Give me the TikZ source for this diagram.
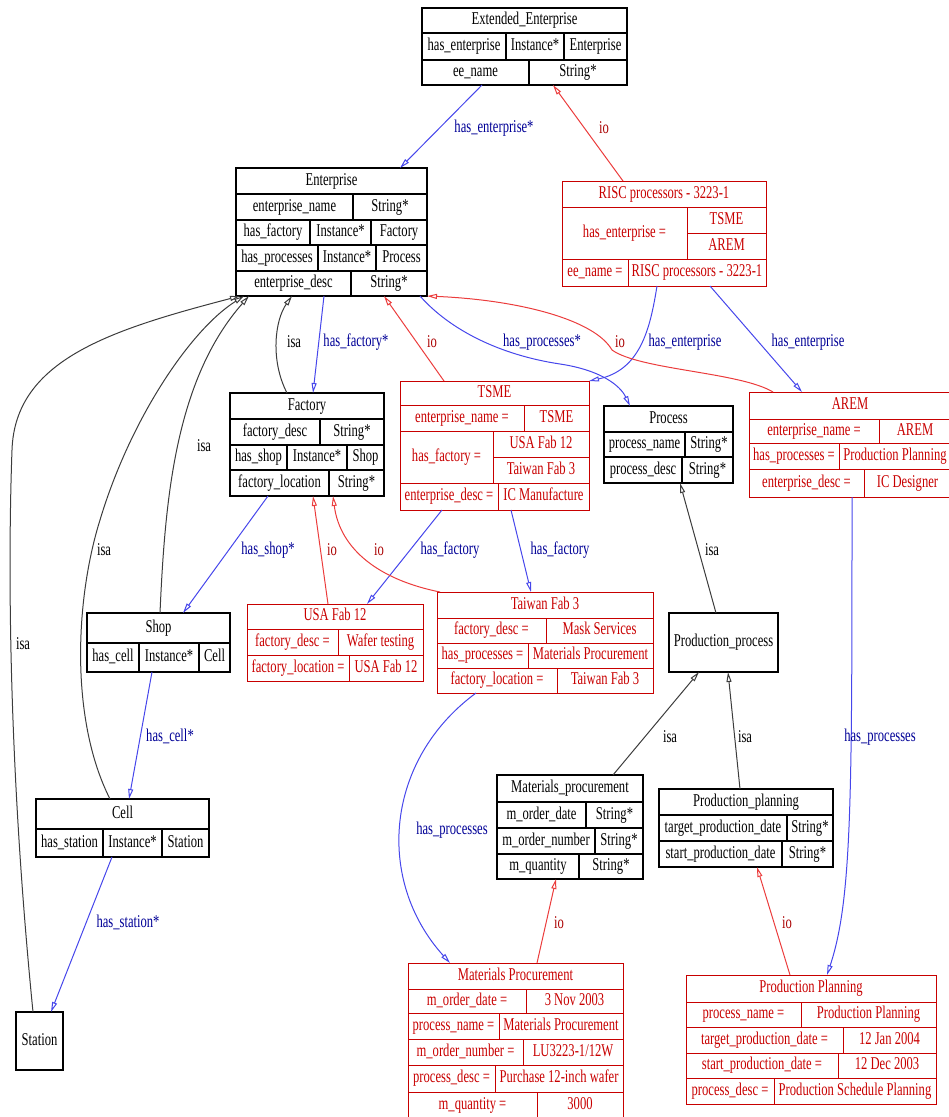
\documentclass[tikz,border=0pt]{standalone}
\usepackage{fontspec}
\setmainfont{Liberation Serif}[FakeStretch=0.7]
\usetikzlibrary{arrows.meta}
\definecolor{recred}{RGB}{200,0,0}
\definecolor{edgeblue}{RGB}{70,70,235}
\definecolor{lblblue}{RGB}{0,0,150}
\definecolor{edgered}{RGB}{235,60,60}
\definecolor{lblred}{RGB}{170,0,0}
\definecolor{edgegray}{RGB}{60,60,60}
\newcommand{\recfont}{\fontsize{18}{20}\selectfont}
\tikzset{
  frm/.style={draw, inner sep=0pt, outer sep=0pt, anchor=north west},
  txt/.style={inner sep=0pt, font=\recfont, text height=12pt, text depth=4pt},
  lbl/.style={inner sep=0pt, font=\recfont},
  link/.style={line width=1pt, -{Triangle[open, length=10pt, width=5pt]}},
  hasarr/.style={link, draw=edgeblue},
  ioarr/.style={link, draw=edgered},
  isaarr/.style={link, draw=edgegray},
}
% record frame: name, x0, y0, x1, y1
\newcommand{\frm}[5]{\node[frm, minimum width={(#4-#2)*1pt}, minimum height={(#5-#3)*1pt}] (#1) at (#2,#3) {};}
% one cell: name, x0, y0, x1, y1, text
\newcommand{\cel}[6]{\draw (#2,#3) rectangle (#4,#5);
  \node[txt] (#1) at ({(#2+#4)/2},{(#3+#5)/2}) {#6};}
% two-cell row: name, x0, xdiv, x1, y0, y1, left, right
\newcommand{\rtwo}[8]{\cel{#1a}{#2}{#5}{#3}{#6}{#7}\cel{#1b}{#3}{#5}{#4}{#6}{#8}}

\begin{document}
\begin{tikzpicture}[x=1pt, y=-1pt]
\useasboundingbox (0,0) rectangle (949,1117);
\clip (0,0) rectangle (949,1117);

% classes
\begin{scope}[line width=1.3pt]
\frm{ee}{422}{8}{627}{85}
\cel{ee-t}{422}{8}{627}{33}{Extended\_Enterprise}
\cel{ee-1a}{422}{33}{506}{60}{has\_enterprise}
\cel{ee-1b}{506}{33}{564}{60}{Instance*}
\cel{ee-1c}{564}{33}{627}{60}{Enterprise}
\rtwo{ee-2}{422}{529}{627}{60}{85}{ee\_name}{String*}

\frm{ent}{236}{168}{427}{296}
\cel{ent-t}{236}{168}{427}{194}{Enterprise}
\rtwo{ent-1}{236}{353}{427}{194}{220}{enterprise\_name}{String*}
\cel{ent-2a}{236}{220}{310}{245}{has\_factory}
\cel{ent-2b}{310}{220}{371}{245}{Instance*}
\cel{ent-2c}{371}{220}{427}{245}{Factory}
\cel{ent-3a}{236}{245}{318}{271}{has\_processes}
\cel{ent-3b}{318}{245}{376}{271}{Instance*}
\cel{ent-3c}{376}{245}{427}{271}{Process}
\rtwo{ent-4}{236}{351}{427}{271}{296}{enterprise\_desc}{String*}

\frm{fac}{230}{393}{384}{496}
\cel{fac-t}{230}{393}{384}{419}{Factory}
\rtwo{fac-1}{230}{320}{384}{419}{445}{factory\_desc}{String*}
\cel{fac-2a}{230}{445}{287}{470}{has\_shop}
\cel{fac-2b}{287}{445}{347}{470}{Instance*}
\cel{fac-2c}{347}{445}{384}{470}{Shop}
\rtwo{fac-3}{230}{329}{384}{470}{496}{factory\_location}{String*}

\frm{shop}{87}{613}{230}{672}
\cel{shop-t}{87}{613}{230}{643}{Shop}
\cel{shop-1a}{87}{643}{139}{672}{has\_cell}
\cel{shop-1b}{139}{643}{199}{672}{Instance*}
\cel{shop-1c}{199}{643}{230}{672}{Cell}

\frm{cell}{36}{799}{209}{857}
\cel{cell-t}{36}{799}{209}{829}{Cell}
\cel{cell-1a}{36}{829}{103}{857}{has\_station}
\cel{cell-1b}{103}{829}{162}{857}{Instance*}
\cel{cell-1c}{162}{829}{209}{857}{Station}

\frm{sta}{16}{1012}{63}{1070}
\cel{sta-t}{16}{1012}{63}{1070}{Station}

\frm{proc}{604}{406}{733}{483}
\cel{proc-t}{604}{406}{733}{432}{Process}
\rtwo{proc-1}{604}{685}{733}{432}{457}{process\_name}{String*}
\rtwo{proc-2}{604}{682}{733}{457}{483}{process\_desc}{String*}

\frm{pp}{669}{613}{778}{672}
\cel{pp-t}{669}{613}{778}{672}{Production\_process}

\frm{mp}{497}{775}{643}{879}
\cel{mp-t}{497}{775}{643}{802}{Materials\_procurement}
\rtwo{mp-1}{497}{586}{643}{802}{828}{m\_order\_date}{String*}
\rtwo{mp-2}{497}{595}{643}{828}{854}{m\_order\_number}{String*}
\rtwo{mp-3}{497}{579}{643}{854}{879}{m\_quantity}{String*}

\frm{ppl}{659}{789}{833}{867}
\cel{ppl-t}{659}{789}{833}{815}{Production\_planning}
\rtwo{ppl-1}{659}{787}{833}{815}{841}{target\_production\_date}{String*}
\rtwo{ppl-2}{659}{782}{833}{841}{867}{start\_production\_date}{String*}
\end{scope}

% instances
\begin{scope}[color=recred, line width=1pt]
\frm{risc}{562}{181}{766}{286}
\cel{risc-t}{562}{181}{766}{207}{RISC processors - 3223-1}
\cel{risc-1a}{562}{207}{687}{259}{has\_enterprise =}
\cel{risc-1b}{687}{207}{766}{233}{TSME}
\cel{risc-1c}{687}{233}{766}{259}{AREM}
\rtwo{risc-2}{562}{628}{766}{259}{286}{ee\_name =}{RISC processors - 3223-1}

\frm{tsme}{400}{381}{589}{510}
\cel{tsme-t}{400}{381}{589}{405}{TSME}
\rtwo{tsme-1}{400}{524}{589}{405}{431}{enterprise\_name =}{TSME}
\cel{tsme-2a}{400}{431}{493}{483}{has\_factory =}
\cel{tsme-2b}{493}{431}{589}{457}{USA Fab 12}
\cel{tsme-2c}{493}{457}{589}{483}{Taiwan Fab 3}
\rtwo{tsme-3}{400}{498}{589}{483}{510}{enterprise\_desc =}{IC Manufacture}

\frm{arem}{749}{392}{951}{497}
\cel{arem-t}{749}{392}{951}{419}{AREM}
\rtwo{arem-1}{749}{879}{951}{419}{443}{enterprise\_name =}{AREM}
\rtwo{arem-2}{749}{839}{951}{443}{469}{has\_processes =}{Production Planning}
\rtwo{arem-3}{749}{864}{951}{469}{497}{enterprise\_desc =}{IC Designer}

\frm{usa}{247}{604}{423}{681}
\cel{usa-t}{247}{604}{423}{629}{USA Fab 12}
\rtwo{usa-1}{247}{338}{423}{629}{655}{factory\_desc =}{Wafer testing}
\rtwo{usa-2}{247}{349}{423}{655}{681}{factory\_location =}{USA Fab 12}

\frm{tw}{437}{592}{653}{693}
\cel{tw-t}{437}{592}{653}{618}{Taiwan Fab 3}
\rtwo{tw-1}{437}{546}{653}{618}{643}{factory\_desc =}{Mask Services}
\rtwo{tw-2}{437}{528}{653}{643}{668}{has\_processes =}{Materials Procurement}
\rtwo{tw-3}{437}{557}{653}{668}{693}{factory\_location =}{Taiwan Fab 3}

\frm{mpi}{408}{963}{623}{1118}
\cel{mpi-t}{408}{963}{623}{989}{Materials Procurement}
\rtwo{mpi-1}{408}{526}{623}{989}{1013}{m\_order\_date =}{3 Nov 2003}
\rtwo{mpi-2}{408}{499}{623}{1013}{1039}{process\_name =}{Materials Procurement}
\rtwo{mpi-3}{408}{523}{623}{1039}{1065}{m\_order\_number =}{LU3223-1/12W}
\rtwo{mpi-4}{408}{495}{623}{1065}{1092}{process\_desc =}{Purchase 12-inch wafer}
\rtwo{mpi-5}{408}{537}{623}{1092}{1118}{m\_quantity =}{3000}

\frm{ppi}{686}{975}{936}{1104}
\cel{ppi-t}{686}{975}{936}{1002}{Production Planning}
\rtwo{ppi-1}{686}{801}{936}{1002}{1027}{process\_name =}{Production Planning}
\rtwo{ppi-2}{686}{843}{936}{1027}{1053}{target\_production\_date =}{12 Jan 2004}
\rtwo{ppi-3}{686}{838}{936}{1053}{1078}{start\_production\_date =}{12 Dec 2003}
\rtwo{ppi-4}{686}{774}{936}{1078}{1104}{process\_desc =}{Production Schedule Planning}
\end{scope}

% has_ links
\draw[hasarr] ([xshift=60pt]ee.south west) -- ([xshift=164pt]ent.north west);
\draw[hasarr] ([xshift=88pt]ent.south west) -- ([xshift=83pt]fac.north west);
\draw[hasarr] ([xshift=184pt]ent.south west) .. controls (450,330) and (500,355) .. (560,364)
      .. controls (600,370) and (620,385) .. ([xshift=26pt]proc.north west);
\draw[hasarr] ([xshift=38pt]fac.south west) -- ([xshift=96pt]shop.north west);
\draw[hasarr] ([xshift=65pt]shop.south west) -- ([xshift=93pt]cell.north west);
\draw[hasarr] ([xshift=76pt]cell.south west) -- ([xshift=35pt]sta.north west);
\draw[hasarr] ([xshift=95pt]risc.south west) .. controls (650,330) and (640,370) .. (tsme.north east);
\draw[hasarr] ([xshift=148pt]risc.south west) -- ([xshift=53pt]arem.north west);
\draw[hasarr] ([xshift=42pt]tsme.south west) -- ([xshift=120pt]usa.north west);
\draw[hasarr] ([xshift=111pt]tsme.south west) -- ([xshift=94pt]tw.north west);
\draw[hasarr] ([xshift=39pt]tw.south west) .. controls (385,760) and (375,880) .. ([xshift=42pt]mpi.north west);
\draw[hasarr] ([xshift=103pt]arem.south west) .. controls (852,800) and (852,900) .. ([xshift=141pt]ppi.north west);

% io links
\draw[ioarr] ([xshift=61pt]risc.north west) -- ([xshift=131pt]ee.south west);
\draw[ioarr] ([xshift=44pt]tsme.north west) -- ([xshift=148pt]ent.south west);
\draw[ioarr] ([xshift=24pt]arem.north west) .. controls (740,372) and (640,370) .. (612,350)
      .. controls (595,320) and (520,300) .. (ent.south east);
\draw[ioarr] ([xshift=81pt]usa.north west) -- ([xshift=83pt]fac.south west);
\draw[ioarr] ([xshift=3pt]tw.north west) .. controls (380,580) and (340,550) .. ([xshift=103pt]fac.south west);
\draw[ioarr] ([xshift=129pt]mpi.north west) -- ([xshift=59pt]mp.south west);
\draw[ioarr] ([xshift=104pt]ppi.north west) -- ([xshift=98pt]ppl.south west);

% isa links
\draw[isaarr] ([xshift=57pt]fac.north west) .. controls (270,360) and (275,320) .. ([xshift=56pt]ent.south west);
\draw[isaarr] ([xshift=73pt]shop.north west) .. controls (165,500) and (175,380) .. ([xshift=13pt]ent.south west);
\draw[isaarr] ([xshift=74pt]cell.north west) .. controls (70,720) and (75,600) .. (100,520)
      .. controls (130,420) and (190,330) .. ([xshift=8pt]ent.south west);
\draw[isaarr] ([xshift=17pt]sta.north west) .. controls (8,760) and (8,560) .. (12,450)
      .. controls (15,360) and (110,330) .. ([xshift=4pt]ent.south west);
\draw[isaarr] ([xshift=47pt]pp.north west) -- ([xshift=76pt]proc.south west);
\draw[isaarr] ([xshift=116pt]mp.north west) -- ([xshift=30pt]pp.south west);
\draw[isaarr] ([xshift=81pt]ppl.north west) -- ([xshift=59pt]pp.south west);

% link labels
\foreach \px/\py/\t [count=\i] in {494/128/has\_enterprise*, 356/342/has\_factory*,
    542/342/has\_processes*, 685/342/has\_enterprise, 808/342/has\_enterprise,
    268/550/has\_shop*, 450/550/has\_factory, 560/550/has\_factory, 170/736/has\_cell*,
    128/922/has\_station*, 452/830/has\_processes, 880/737/has\_processes}
  \node[lbl, text=lblblue] (has-\i) at (\px,\py) {\t};
\foreach \px/\py [count=\i] in {604/128, 432/342, 620/342, 332/550, 379/550, 559/923, 787/923}
  \node[lbl, text=lblred] (io-\i) at (\px,\py) {io};
\foreach \px/\py [count=\i] in {294/342, 204/446, 104/550, 23/644, 712/550, 670/737, 745/737}
  \node[lbl] (isa-\i) at (\px,\py) {isa};
\end{tikzpicture}
\end{document}
